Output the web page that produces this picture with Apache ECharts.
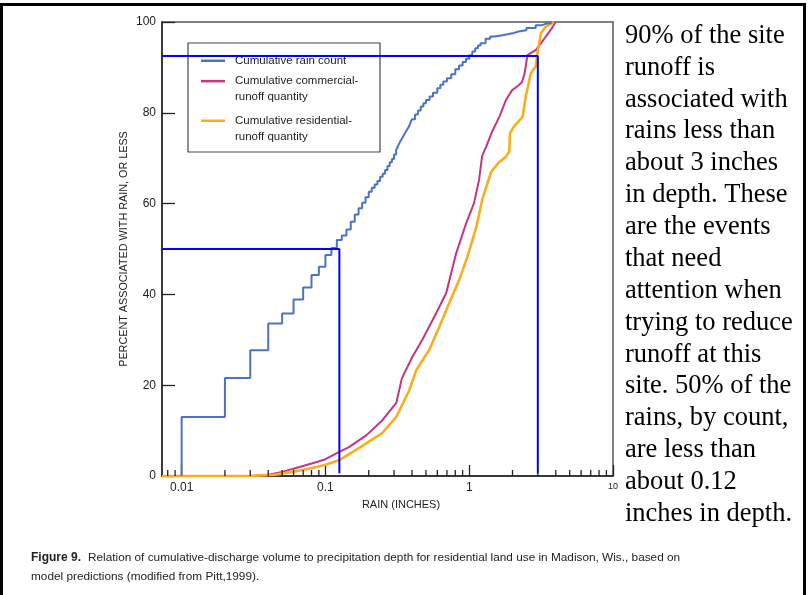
<!DOCTYPE html>
<html>
<head>
<meta charset="utf-8">
<script src="https://cdn.jsdelivr.net/npm/echarts@6/dist/echarts.min.js"></script>
<style>
  html, body { margin: 0; padding: 0; background: #fff; }
  #chart { width: 809px; height: 595px; }
</style>
</head>
<body>
<div id="chart"></div>
<script>
// Rain depth (inches) vs cumulative percent, Madison, Wis.
const xMin = 0.0073;
const xMax = 10;

// Cumulative rain count: stepped, one step per 0.01-inch depth class
const rainCount = [
  [0.01, 0], [0.01, 13.0], [0.02, 21.6], [0.03, 27.7], [0.04, 33.6], [0.05, 35.8],
  [0.06, 38.9], [0.07, 41.5], [0.08, 44.3], [0.09, 46.1], [0.10, 48.7], [0.11, 50.2],
  [0.12, 52.0], [0.13, 53.0], [0.14, 54.3], [0.15, 56.0], [0.16, 57.6], [0.17, 59.0],
  [0.18, 60.2], [0.19, 61.4], [0.20, 62.6], [0.21, 63.5], [0.22, 64.2], [0.23, 65.0],
  [0.24, 65.9], [0.25, 66.6], [0.26, 67.4], [0.27, 68.3], [0.28, 69.1], [0.29, 69.8],
  [0.30, 70.8], [0.31, 71.8], [0.32, 72.7], [0.33, 73.6], [0.34, 74.3], [0.35, 75.0],
  [0.36, 75.7], [0.37, 76.3], [0.38, 76.9], [0.39, 77.8], [0.40, 78.6], [0.42, 79.6],
  [0.44, 80.5], [0.46, 81.4], [0.48, 82.1], [0.50, 82.8], [0.53, 83.6], [0.56, 84.4],
  [0.60, 85.4], [0.63, 86.2], [0.66, 86.9], [0.70, 87.6], [0.75, 88.5], [0.80, 89.6],
  [0.85, 90.4], [0.90, 91.2], [0.95, 91.9], [1.00, 92.7], [1.05, 93.5], [1.10, 94.2],
  [1.15, 94.8], [1.20, 95.3], [1.30, 96.3], [1.40, 96.8], [1.50, 97.1], [1.70, 97.5],
  [2.00, 97.9], [2.20, 98.2], [2.50, 98.7], [2.90, 99.3], [3.20, 99.6], [3.40, 99.8],
  [3.70, 100]
];

// Cumulative commercial-runoff quantity
const commercialRunoff = [
  [0.0073, 0], [0.03, 0], [0.04, 0.3], [0.05, 0.9], [0.066, 2.0], [0.087, 3.1],
  [0.10, 3.7], [0.121, 5.1], [0.147, 6.4], [0.193, 9.0], [0.249, 12.3], [0.311, 16.1],
  [0.34, 21.5], [0.402, 26.2], [0.472, 30.0], [0.59, 35.9], [0.692, 40.3], [0.812, 49.1],
  [0.953, 55.7], [1.08, 60.1], [1.17, 65.2], [1.23, 70.5], [1.31, 72.5], [1.45, 76.0],
  [1.62, 79.1], [1.80, 82.8], [1.99, 85.0], [2.20, 86.0], [2.33, 86.8], [2.42, 88.5],
  [2.47, 90.2], [2.54, 92.7], [2.90, 93.8], [3.15, 95.3], [3.41, 96.8], [3.70, 98.3],
  [4.00, 100]
];

// Cumulative residential-runoff quantity
const residentialRunoff = [
  [0.0073, 0], [0.03, 0], [0.045, 0.3], [0.059, 0.9], [0.087, 2.0], [0.10, 2.5],
  [0.125, 3.5], [0.172, 6.2], [0.249, 9.5], [0.311, 13.0], [0.383, 18.9], [0.428, 23.3],
  [0.528, 27.8], [0.619, 32.8], [0.726, 38.1], [0.852, 43.2], [0.969, 48.2], [1.12, 54.8],
  [1.23, 60.8], [1.42, 67.0], [1.60, 69.0], [1.80, 70.3], [1.90, 71.5], [1.92, 75.5],
  [2.05, 77.0], [2.35, 79.1], [2.47, 83.5], [2.68, 88.7], [2.90, 90.2], [2.98, 93.1],
  [3.15, 97.5], [3.41, 99.0], [3.89, 100]
];

// Guide lines: share of runoff / share of rains and the matching depth
const guideRunoff = [[xMin, 92.5], [3.0, 92.5], [3.0, 0.6]];
const guideCount = [[xMin, 50], [0.125, 50], [0.125, 0.6]];

// Tick values
const yTicks = [0, 20, 40, 60, 80, 100];
const xMajorLabels = [0.01, 0.1, 1, 10];
const xMinorTicks = [0.008, 0.009, 0.02, 0.03, 0.04, 0.05, 0.06, 0.07, 0.08, 0.09,
  0.2, 0.3, 0.4, 0.5, 0.6, 0.7, 0.8, 0.9, 2, 3, 4, 5, 6, 7, 8, 9];

const seriesNames = [
  'Cumulative rain count',
  'Cumulative commercial-runoff quantity',
  'Cumulative residential-runoff quantity'
];
const legendText = [
  'Cumulative rain count',
  '\nCumulative commercial-\nrunoff quantity',
  '\nCumulative residential-\nrunoff quantity'
];
const legendTop = [52.9, 57.6, 97.2];

const noteLines = [
  '90% of the site', 'runoff is', 'associated with', 'rains less than',
  'about 3 inches', 'in depth. These', 'are the events', 'that need',
  'attention when', 'trying to reduce', 'runoff at this', 'site. 50% of the',
  'rains, by count,', 'are less than', 'about 0.12', 'inches in depth.'
];
const captionHead = 'Figure 9.';
const captionLine1 = 'Relation of cumulative-discharge volume to precipitation depth for residential land use in Madison, Wis., based on';
const captionLine2 = 'model predictions (modified from Pitt,1999).';

const SANS = '"Liberation Sans", Arial, sans-serif';
const SERIF = '"Liberation Serif", "Times New Roman", serif';
const INK = '#222';

const chart = echarts.init(document.getElementById('chart'), null, { renderer: 'canvas' });

// one legend block per series so each entry sits where it belongs in the box
const legends = seriesNames.map(function (name, i) {
  return {
    data: [name],
    orient: 'vertical',
    left: 201, top: legendTop[i],
    padding: 0,
    itemWidth: 24, itemHeight: 2.5,
    icon: 'rect',
    selectedMode: false,
    textStyle: {
      fontFamily: SANS, fontSize: 11.5, color: INK, lineHeight: 15.7,
      padding: [0, 0, 0, 5]
    },
    formatter: function () { return legendText[i]; }
  };
});

const option = {
  animation: false,
  backgroundColor: '#fff',
  grid: {
    left: 162, right: 196, top: 22, bottom: 119,
    show: true, borderColor: '#555', borderWidth: 1.5, backgroundColor: 'transparent'
  },
  legend: legends,
  xAxis: {
    type: 'log', logBase: 10, min: xMin, max: xMax,
    name: 'RAIN (INCHES)', nameLocation: 'middle', nameGap: 23,
    nameTextStyle: { fontFamily: SANS, fontSize: 11, color: INK, padding: [0, 0, 0, 27] },
    axisLine: { lineStyle: { color: INK, width: 1.5 } },
    axisTick: { show: true, inside: true, length: 11, lineStyle: { color: INK, width: 1.3 } },
    axisLabel: {
      showMinLabel: false, margin: 6, color: INK, fontFamily: SANS, fontSize: 12,
      formatter: function (v) {
        const near = xMajorLabels.find(function (m) { return Math.abs(Math.log10(v) - Math.log10(m)) < 1e-6; });
        if (near === undefined) return '';
        return near === 10 ? '{s|10}' : String(near);
      },
      rich: { s: { fontFamily: SANS, fontSize: 9, color: INK } }
    },
    splitLine: { show: false }
  },
  yAxis: {
    type: 'value', min: yTicks[0], max: yTicks[yTicks.length - 1], interval: 20,
    name: 'PERCENT ASSOCIATED WITH RAIN, OR LESS', nameLocation: 'middle',
    nameGap: 32, nameMoveOverlap: false,
    nameTextStyle: { fontFamily: SANS, fontSize: 10.8, color: INK },
    axisLine: { show: true, lineStyle: { color: INK, width: 1.5 } },
    axisTick: { show: true, inside: true, length: 13, lineStyle: { color: INK, width: 1.3 } },
    axisLabel: { margin: 6, color: INK, fontFamily: SANS, fontSize: 12 },
    splitLine: { show: false }
  },
  series: [
    {
      name: seriesNames[1], type: 'line', data: commercialRunoff,
      showSymbol: false, color: '#c63482',
      lineStyle: { color: '#c63482', width: 2 }, z: 3
    },
    {
      name: seriesNames[2], type: 'line', data: residentialRunoff,
      showSymbol: false, color: '#fcac1c',
      lineStyle: { color: '#fcac1c', width: 2.6 }, z: 3
    },
    {
      name: seriesNames[0], type: 'line', data: rainCount, step: 'end',
      showSymbol: false, color: '#4b73c4',
      lineStyle: { color: '#4b73c4', width: 2 }, z: 4
    },
    {
      name: 'runoff guide', type: 'line', data: guideRunoff, showSymbol: false,
      lineStyle: { color: '#0000ff', width: 2 }, z: 6, clip: false, silent: true
    },
    {
      name: 'count guide', type: 'line', data: guideCount, showSymbol: false,
      lineStyle: { color: '#0000ff', width: 2 }, z: 6, clip: false, silent: true
    },
    {
      name: 'minor ticks', type: 'custom', silent: true, clip: false, z: 7,
      data: xMinorTicks.map(function (v) { return [v, 0]; }),
      renderItem: function (params, api) {
        const p = api.coord([api.value(0), 0]);
        return {
          type: 'line',
          shape: { x1: p[0], y1: p[1], x2: p[0], y2: p[1] - 6 },
          style: { stroke: INK, lineWidth: 1.3 }
        };
      }
    }
  ],
  graphic: [
    // outer frame
    {
      type: 'rect', silent: true, z: 100,
      shape: { x: 1.5, y: 4.5, width: 803, height: 620 },
      style: { fill: 'none', stroke: '#000', lineWidth: 3 }
    },
    // legend box
    {
      type: 'rect', silent: true, z: 1,
      shape: { x: 188, y: 43, width: 192, height: 109 },
      style: { fill: '#fff', stroke: '#444', lineWidth: 1.2 }
    },
    // explanatory note
    {
      type: 'text', silent: true, z: 50,
      style: {
        x: 625, y: 20, text: noteLines.join('\n'),
        font: '26.5px ' + SERIF, lineHeight: 31.87, fill: '#000', verticalAlign: 'top'
      }
    },
    // caption
    {
      type: 'text', silent: true, z: 50,
      style: { x: 31, y: 558, text: captionHead, font: 'bold 12px ' + SANS, fill: INK, verticalAlign: 'middle' }
    },
    {
      type: 'text', silent: true, z: 50,
      style: { x: 88, y: 558, text: captionLine1, font: '11.8px ' + SANS, fill: INK, verticalAlign: 'middle' }
    },
    {
      type: 'text', silent: true, z: 50,
      style: { x: 31, y: 577, text: captionLine2, font: '11.8px ' + SANS, fill: INK, verticalAlign: 'middle' }
    }
  ]
};

chart.setOption(option);
</script>
</body>
</html>
